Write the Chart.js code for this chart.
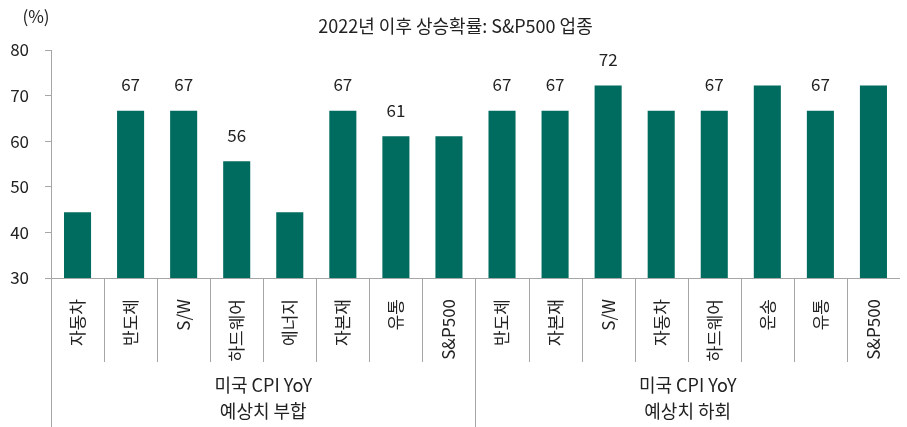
<!DOCTYPE html>
<html>
<head>
<meta charset="utf-8">
<script src="https://cdn.jsdelivr.net/npm/chart.js@4/dist/chart.umd.min.js"></script>
<style>
    html, body { margin: 0; padding: 0; background: #fff; }
    #wrap { width: 907px; height: 427px; }
</style>
</head>
<body>
<div id="wrap"><canvas id="upChart"></canvas></div>
<script>
const categories = [
    "자동차", "반도체", "S/W", "하드웨어", "에너지", "자본재", "유통", "S&P500",
    "반도체", "자본재", "S/W", "자동차", "하드웨어", "운송", "유통", "S&P500",
];
const upProbability = [
    44.4, 66.7, 66.7, 55.6, 44.4, 66.7, 61.1, 61.1,
    66.7, 66.7, 72.2, 66.7, 66.7, 72.2, 66.7, 72.2,
];
// labels printed above some bars only
const valueLabels = [
    null, "67", "67", "56", null, "67", "61", null,
    "67", "67", "72", null, "67", null, "67", null,
];
const groupNames = [
    ["미국 CPI YoY", "예상치 부합"],
    ["미국 CPI YoY", "예상치 하회"],
];
const groupSize = 8;
const titleText = "2022년 이후 상승확률: S&P500 업종";
const unitText = "(%)";

const FONT = "'Noto Sans CJK KR', 'Noto Sans', sans-serif";
const TEXT = "#222";
const AXIS = "#a6a6a6";
const BAR = "#006b5f";

const decorPlugin = {
    id: "decor",
    afterDraw(chart) {
        const { ctx, chartArea, scales } = chart;
        const x = scales.x;
        const y = scales.y;
        const step = x.getPixelForValue(1) - x.getPixelForValue(0);

        ctx.save();
        ctx.strokeStyle = AXIS;
        ctx.lineWidth = 1;
        ctx.beginPath();
        for (let i = 0; i < categories.length; i++) {
            const bx = Math.round(x.getPixelForValue(i) - step / 2) + 0.5;
            const bottom = i % groupSize === 0 ? chart.height : 362;
            ctx.moveTo(bx, chartArea.bottom);
            ctx.lineTo(bx, bottom);
        }
        ctx.stroke();

        ctx.fillStyle = TEXT;
        ctx.textAlign = "center";
        ctx.textBaseline = "middle";

        ctx.font = "17px " + FONT;
        valueLabels.forEach((lbl, i) => {
            if (!lbl) return;
            ctx.fillText(lbl, x.getPixelForValue(i), y.getPixelForValue(upProbability[i]) - 26);
        });
        ctx.fillText(unitText, 36, 17);

        ctx.font = "18px " + FONT;
        groupNames.forEach((lines, g) => {
            const first = x.getPixelForValue(g * groupSize);
            const last = x.getPixelForValue(g * groupSize + groupSize - 1);
            const cx = (first + last) / 2;
            ctx.fillText(lines[0], cx, 385);
            ctx.fillText(lines[1], cx, 411);
        });

        ctx.fillText(titleText, chart.width / 2 + 2, 26);
        ctx.restore();
    },
};

new Chart(document.getElementById("upChart"), {
    type: "bar",
    data: {
        labels: categories,
        datasets: [
            {
                data: upProbability,
                backgroundColor: BAR,
                borderWidth: 0,
                barPercentage: 1,
                categoryPercentage: 0.51,
            },
        ],
    },
    options: {
        responsive: true,
        maintainAspectRatio: false,
        animation: false,
        layout: { padding: { top: 50, right: 5, left: 0, bottom: 0 } },
        plugins: {
            legend: { display: false },
            tooltip: { enabled: false },
        },
        scales: {
            x: {
                grid: { display: false },
                border: { display: true, color: AXIS },
                ticks: {
                    autoSkip: false,
                    minRotation: 90,
                    maxRotation: 90,
                    padding: 13,
                    color: TEXT,
                    font: { family: FONT, size: 17 },
                },
                afterFit(scale) {
                    scale.height = 149;
                },
            },
            y: {
                min: 30,
                max: 80,
                ticks: {
                    stepSize: 10,
                    padding: 16,
                    color: TEXT,
                    font: { family: FONT, size: 17 },
                },
                grid: {
                    drawOnChartArea: false,
                    tickLength: 6,
                    color: AXIS,
                },
                border: { display: true, color: AXIS },
                afterFit(scale) {
                    scale.width = 51;
                },
            },
        },
    },
    plugins: [decorPlugin],
});
</script>
</body>
</html>
